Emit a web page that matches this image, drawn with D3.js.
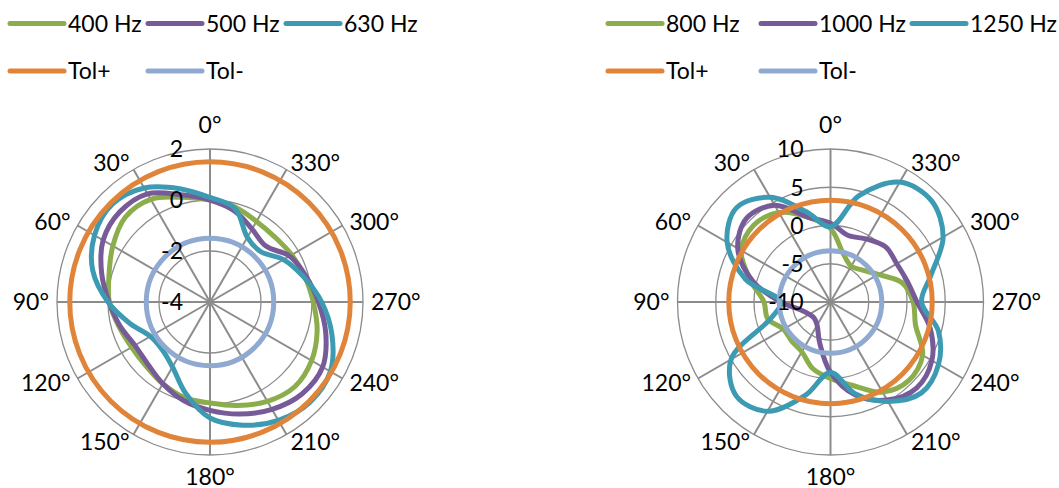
<!DOCTYPE html>
<html>
<head>
<meta charset="utf-8">
<script src="https://cdn.jsdelivr.net/npm/d3@7"></script>
<style>
  body { margin: 0; background: #ffffff; }
  text { font-family: Lato, "Open Sans", sans-serif; fill: #000; }
</style>
</head>
<body>
<svg id="chart" width="1059" height="488"></svg>
<script>
// Measurement angles (degrees, counter-clockwise from the top)
const angles = [0, 15, 30, 45, 60, 75, 90, 105, 120, 135, 150, 165,
                180, 195, 210, 225, 240, 255, 270, 285, 300, 315, 330, 345];
const angleTicks = [0, 30, 60, 90, 120, 150, 180, 210, 240, 270, 300, 330];

// Low band: level deviation in dB
const lowNames = ["400 Hz", "500 Hz", "630 Hz"];
const s400 = [0, 0.25, 0.65, 0.7, 0.4, 0.1, -0.05, -0.3, -0.45, -0.45, -0.3, -0.12,
              -0.04, 0.2, 0.5, 0.7, 0.6, 0.35, 0.05, -0.15, -0.3, -0.4, -0.35, -0.15];
const s500 = [0, 0.35, 0.9, 1.0, 0.84, 0.4, -0.04, -0.35, -0.6, -0.55, -0.3, 0.0,
              0.25, 0.55, 0.86, 1.1, 1.1, 0.7, 0.25, -0.1, -0.4, -0.9, -0.7, -0.3];
const s630 = [0.1, 0.6, 1.16, 1.42, 1.23, 0.76, 0.0, -0.75, -1.3, -1.35, -1.06, -0.3,
              0.55, 1.0, 1.36, 1.55, 1.45, 0.95, 0.38, -0.2, -0.67, -1.2, -1.07, -0.2];
const lowTol = [1.5, -1.5];
const lowTicks = [-4, -2, 0, 2];

// High band
const highNames = ["800 Hz", "1000 Hz", "1250 Hz"];
const s800 = [-0.4, 1.5, 3.5, 4.2, 3.5, 0.8, -1.3, -1.5, -2.9, -2.8, -2.5, -1.0,
              0.0, 1.3, 3.6, 4.5, 3.9, 1.5, 0.8, -0.3, -2.8, -4.1, -4.6, -3.5];
const s1000 = [0.3, 1.5, 4.6, 5.5, 4.0, 0.5, -3.5, -6.0, -6.8, -7.0, -6.5, -4.5,
               -0.8, 2.6, 4.8, 5.9, 5.3, 3.5, 1.3, 0.4, 0.0, 0.2, -0.5, -1.0];
const s1250 = [-0.15, 2.2, 5.8, 7.4, 5.6, 1.5, -3.5, -2.0, 5.0, 7.4, 6.5, 2.6,
               -0.8, 2.4, 5.0, 6.8, 6.3, 4.6, 1.9, 3.6, 7.0, 8.7, 8.1, 4.4];
const highTol = [3.3, -3.3];
const highTicks = [-10, -5, 0, 5, 10];

const tolNames = ["Tol+", "Tol-"];
const seriesColors = ["#8cad4c", "#775b98", "#3c9bb3"];
const tolColors = ["#e0843a", "#8fa9d0"];

const svg = d3.select("#chart");
const R = 153;
const gridColor = "#8c8c8c";
const fontSize = 23;
const cap = 16.5;

function drawLegend(slots, names) {
  const g = svg.append("g").attr("class", "legend");
  const rows = [23.5, 71];
  const items = names.map((n, i) => ({ name: n, color: seriesColors[i], x: slots[i], y: rows[0] }))
    .concat(tolNames.map((n, i) => ({ name: n, color: tolColors[i], x: slots[i], y: rows[1] })));
  items.forEach(it => {
    g.append("line")
      .attr("x1", it.x).attr("x2", it.x + 54)
      .attr("y1", it.y).attr("y2", it.y)
      .attr("stroke", it.color).attr("stroke-width", 5).attr("stroke-linecap", "round");
    g.append("text")
      .attr("x", it.x + 58).attr("y", it.y + cap / 2)
      .attr("font-size", fontSize)
      .text(it.name);
  });
}

function drawPolar(cx, cy, ticks, series, tol) {
  const g = svg.append("g").attr("transform", `translate(${cx},${cy})`);
  const r = d3.scaleLinear().domain(d3.extent(ticks)).range([0, R]);
  const rad = a => a * Math.PI / 180;

  // rings
  g.selectAll("circle.ring").data(ticks.slice(1)).join("circle")
    .attr("class", "ring").attr("r", d => r(d))
    .attr("fill", "none").attr("stroke", gridColor).attr("stroke-width", 1.3);

  // spokes
  g.selectAll("line.spoke").data(angleTicks).join("line")
    .attr("class", "spoke")
    .attr("x1", 0).attr("y1", 0)
    .attr("x2", d => -R * Math.sin(rad(d)))
    .attr("y2", d => -R * Math.cos(rad(d)))
    .attr("stroke", gridColor).attr("stroke-width", 2);

  // measured curves
  const line = d3.lineRadial()
    .angle(d => -rad(d[0]))
    .radius(d => r(d[1]))
    .curve(d3.curveCatmullRomClosed.alpha(0.5));
  series.forEach((vals, i) => {
    g.append("path")
      .datum(angles.map((a, k) => [a, vals[k]]))
      .attr("d", line)
      .attr("fill", "none")
      .attr("stroke", seriesColors[i])
      .attr("stroke-width", 5)
      .attr("stroke-linejoin", "round");
  });

  // tolerance circles
  tol.forEach((t, i) => {
    g.append("circle").attr("r", r(t))
      .attr("fill", "none").attr("stroke", tolColors[i]).attr("stroke-width", 5);
  });

  // radial tick labels
  g.selectAll("text.tick").data(ticks).join("text")
    .attr("class", "tick")
    .attr("x", -27)
    .attr("y", d => -r(d) + cap / 2)
    .attr("text-anchor", "end")
    .attr("font-size", fontSize)
    .text(d => String(d));

  // angle labels
  const lr = R + 8;
  g.selectAll("text.ang").data(angleTicks).join("text")
    .attr("class", "ang")
    .attr("font-size", fontSize)
    .each(function (d) {
      const s = Math.sin(rad(d)), c = Math.cos(rad(d));
      const px = -lr * s, py = -lr * c;
      const t = d3.select(this);
      if (Math.abs(s) < 0.01) {
        t.attr("x", px).attr("text-anchor", "middle")
         .attr("y", c > 0 ? py - 8 : py + 5 + cap);
      } else {
        t.attr("x", px).attr("text-anchor", s > 0 ? "end" : "start")
         .attr("y", py + cap / 2);
      }
    })
    .text(d => d + "°");
}

drawLegend([10, 148, 286], lowNames);
drawLegend([608, 761, 912], highNames);
drawPolar(210, 302, lowTicks, [s400, s500, s630], lowTol);
drawPolar(830.5, 302, highTicks, [s800, s1000, s1250], highTol);
</script>
</body>
</html>
